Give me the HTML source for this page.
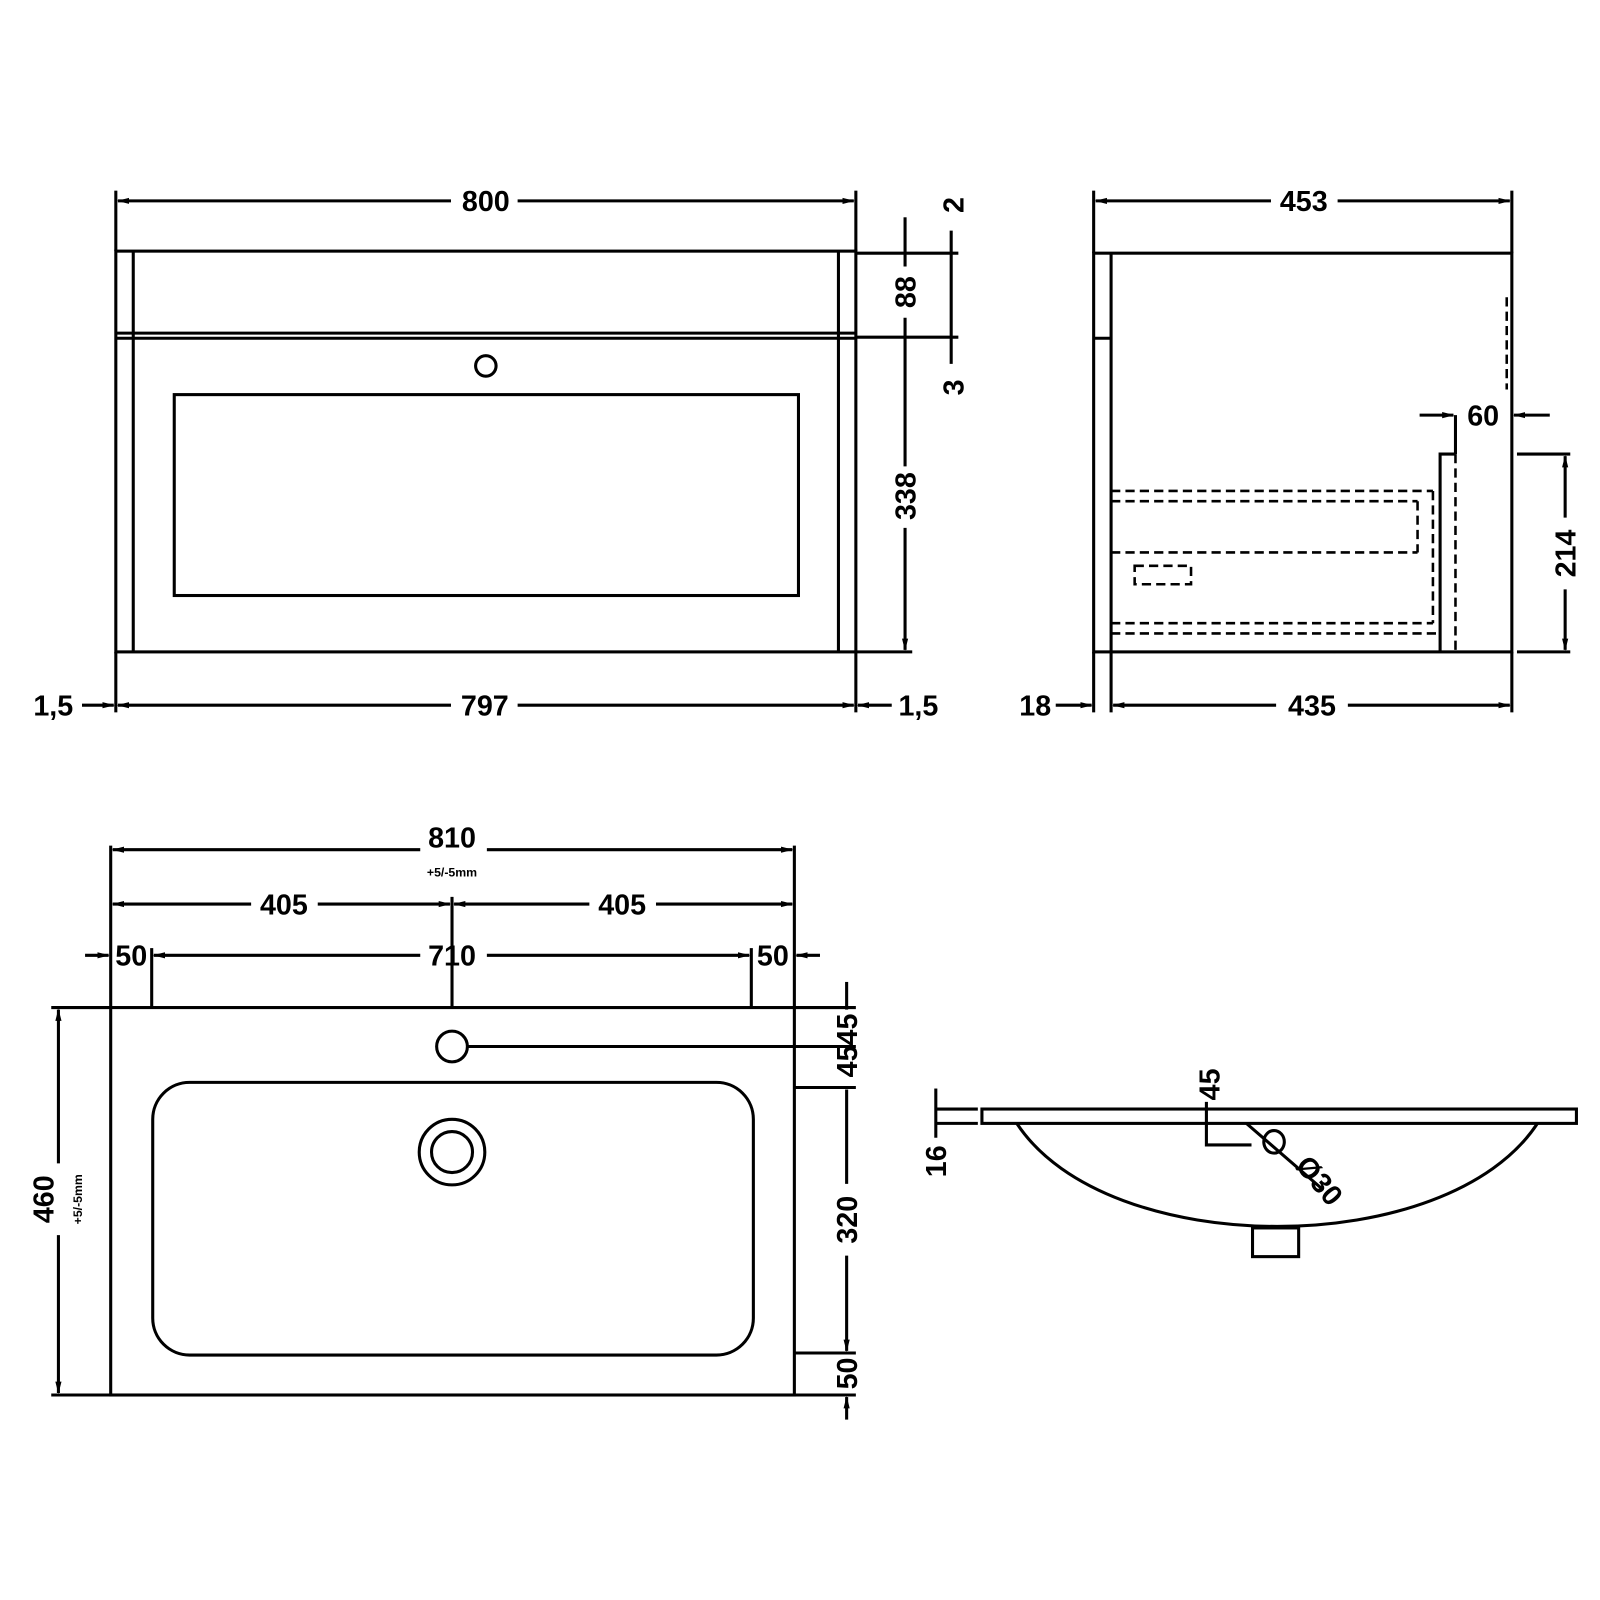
<!DOCTYPE html>
<html><head><meta charset="utf-8"><style>
html,body{margin:0;padding:0;background:#fff}
svg{display:block}
text{font-family:"Liberation Sans",sans-serif;font-weight:bold;fill:#000}
</style></head><body>
<svg width="1600" height="1600" viewBox="0 0 1561 1561" xmlns="http://www.w3.org/2000/svg">
<defs>
<marker id="a" markerWidth="12" markerHeight="8" refX="11" refY="4" orient="auto" markerUnits="userSpaceOnUse"><path d="M0,1 L12,4 L0,7 Z" fill="#000"/></marker>
</defs>
<g stroke="#000" stroke-width="3" fill="none">
<!-- FRONT VIEW -->
<line x1="113" y1="186" x2="113" y2="245"/><line x1="835" y1="186" x2="835" y2="245"/>
<line x1="440" y1="196" x2="115" y2="196" marker-end="url(#a)"/><line x1="505" y1="196" x2="833" y2="196" marker-end="url(#a)"/>
<rect x="113" y="245" width="722" height="391"/>
<line x1="130" y1="245" x2="130" y2="636"/><line x1="818" y1="245" x2="818" y2="636"/>
<line x1="113" y1="325" x2="835" y2="325"/><line x1="113" y1="330" x2="835" y2="330"/>
<line x1="835" y1="247" x2="935" y2="247"/><line x1="835" y1="329" x2="935" y2="329"/><line x1="835" y1="636" x2="890" y2="636"/>
<circle cx="474" cy="357" r="10"/>
<rect x="170" y="385" width="609" height="196"/>
<line x1="883" y1="212" x2="883" y2="260"/><line x1="883" y1="310" x2="883" y2="455"/><line x1="883" y1="515" x2="883" y2="634" marker-end="url(#a)"/>
<line x1="928" y1="225" x2="928" y2="355"/>
<line x1="113" y1="636" x2="113" y2="695"/><line x1="835" y1="636" x2="835" y2="695"/>
<line x1="80" y1="688" x2="111" y2="688" marker-end="url(#a)"/>
<line x1="440" y1="688" x2="115" y2="688" marker-end="url(#a)"/><line x1="505" y1="688" x2="833" y2="688" marker-end="url(#a)"/>
<line x1="870" y1="688" x2="837" y2="688" marker-end="url(#a)"/>
<!-- SIDE VIEW -->
<line x1="1067" y1="186" x2="1067" y2="247"/><line x1="1475" y1="186" x2="1475" y2="247"/>
<line x1="1240" y1="196" x2="1069" y2="196" marker-end="url(#a)"/><line x1="1305" y1="196" x2="1473" y2="196" marker-end="url(#a)"/>
<rect x="1067" y="247" width="408" height="389"/>
<line x1="1084" y1="247" x2="1084" y2="695"/><line x1="1067" y1="636" x2="1067" y2="695"/><line x1="1475" y1="636" x2="1475" y2="695"/>
<line x1="1067" y1="330" x2="1084" y2="330"/>
<g stroke-dasharray="9,5" stroke-width="2.5">
<line x1="1084" y1="479" x2="1398" y2="479"/><line x1="1084" y1="489" x2="1383" y2="489"/>
<line x1="1383" y1="489" x2="1383" y2="539"/><line x1="1084" y1="539" x2="1383" y2="539"/>
<line x1="1398" y1="479" x2="1398" y2="608"/><line x1="1084" y1="608" x2="1398" y2="608"/>
<line x1="1084" y1="618" x2="1405" y2="618"/>
<line x1="1420" y1="443" x2="1420" y2="636"/>
<rect x="1107" y="552" width="55" height="18"/>
<line x1="1470" y1="290" x2="1470" y2="380"/>
</g>
<polyline points="1405,636 1405,443 1420,443"/>
<line x1="1420" y1="405" x2="1420" y2="443"/>
<line x1="1385" y1="405" x2="1418" y2="405" marker-end="url(#a)"/><line x1="1512" y1="405" x2="1477" y2="405" marker-end="url(#a)"/>
<line x1="1480" y1="443" x2="1532" y2="443"/><line x1="1480" y1="636" x2="1532" y2="636"/>
<line x1="1527" y1="505" x2="1527" y2="445" marker-end="url(#a)"/><line x1="1527" y1="575" x2="1527" y2="634" marker-end="url(#a)"/>
<line x1="1030" y1="688" x2="1065" y2="688" marker-end="url(#a)"/>
<line x1="1245" y1="688" x2="1086" y2="688" marker-end="url(#a)"/><line x1="1315" y1="688" x2="1473" y2="688" marker-end="url(#a)"/>
<!-- BASIN TOP -->
<line x1="108" y1="825" x2="108" y2="983"/><line x1="775" y1="825" x2="775" y2="983"/>
<line x1="410" y1="829" x2="110" y2="829" marker-end="url(#a)"/><line x1="475" y1="829" x2="773" y2="829" marker-end="url(#a)"/>
<line x1="441" y1="875" x2="441" y2="983"/>
<line x1="245" y1="882" x2="110" y2="882" marker-end="url(#a)"/><line x1="310" y1="882" x2="439" y2="882" marker-end="url(#a)"/>
<line x1="575" y1="882" x2="443" y2="882" marker-end="url(#a)"/><line x1="640" y1="882" x2="773" y2="882" marker-end="url(#a)"/>
<line x1="148" y1="925" x2="148" y2="983"/><line x1="733" y1="925" x2="733" y2="983"/>
<line x1="83" y1="932" x2="106" y2="932" marker-end="url(#a)"/><line x1="410" y1="932" x2="150" y2="932" marker-end="url(#a)"/>
<line x1="475" y1="932" x2="731" y2="932" marker-end="url(#a)"/><line x1="800" y1="932" x2="777" y2="932" marker-end="url(#a)"/>
<rect x="108" y="983" width="667" height="378"/>
<line x1="50" y1="983" x2="108" y2="983"/><line x1="50" y1="1361" x2="108" y2="1361"/>
<line x1="57" y1="1135" x2="57" y2="985" marker-end="url(#a)"/><line x1="57" y1="1205" x2="57" y2="1359" marker-end="url(#a)"/>
<circle cx="441" cy="1021" r="15"/>
<line x1="456" y1="1021" x2="835" y2="1021"/>
<rect x="149" y="1056" width="586" height="266" rx="36"/>
<circle cx="441" cy="1124" r="32"/><circle cx="441" cy="1124" r="20"/>
<line x1="775" y1="983" x2="835" y2="983"/><line x1="775" y1="1061" x2="835" y2="1061"/><line x1="775" y1="1320" x2="835" y2="1320"/><line x1="775" y1="1361" x2="835" y2="1361"/>
<line x1="826" y1="958" x2="826" y2="985"/><line x1="826" y1="1063" x2="826" y2="1155" /><line x1="826" y1="1225" x2="826" y2="1318" marker-end="url(#a)"/>
<line x1="826" y1="1385" x2="826" y2="1363" marker-end="url(#a)"/>
<!-- BASIN SIDE -->
<rect x="958" y="1082" width="580" height="14"/>
<line x1="913" y1="1082" x2="954" y2="1082"/><line x1="913" y1="1096" x2="954" y2="1096"/>
<line x1="913" y1="1062" x2="913" y2="1110"/>
<path d="M992,1096 C1080,1230 1412,1230 1500,1096"/>
<rect x="1222" y="1198" width="45" height="28"/>
<polyline points="1177,1075 1177,1117 1221,1117"/>
<ellipse cx="1243" cy="1114" rx="10" ry="11"/>
<line x1="1216" y1="1096" x2="1290" y2="1160"/>
</g>
<g font-size="28" text-anchor="middle">
<text x="474" y="206">800</text>
<text x="473" y="698">797</text>
<text x="52" y="698">1,5</text>
<text x="896" y="698">1,5</text>
<text transform="translate(940,200) rotate(-90)">2</text>
<text transform="translate(893,285) rotate(-90)">88</text>
<text transform="translate(940,378) rotate(-90)">3</text>
<text transform="translate(893,484) rotate(-90)">338</text>
<text x="1272" y="206">453</text>
<text x="1280" y="698">435</text>
<text x="1010" y="698">18</text>
<text x="1447" y="415">60</text>
<text transform="translate(1537,540) rotate(-90)">214</text>
<text x="441" y="827">810</text>
<text x="277" y="892">405</text>
<text x="607" y="892">405</text>
<text x="128" y="942">50</text>
<text x="441" y="942">710</text>
<text x="754" y="942">50</text>
<text transform="translate(52,1170) rotate(-90)">460</text>
<text transform="translate(836,1020) rotate(-90)">4545</text>
<text transform="translate(836,1190) rotate(-90)">320</text>
<text transform="translate(836,1340) rotate(-90)">50</text>
<text transform="translate(923,1133) rotate(-90)">16</text>
<text transform="translate(1190,1058) rotate(-90)">45</text>
<text transform="translate(1280,1158) rotate(50)">Ø30</text>
</g>
<g font-size="12" text-anchor="middle">
<text x="441" y="855">+5/-5mm</text>
<text transform="translate(80,1170) rotate(-90)">+5/-5mm</text>
</g>
</svg>
</body></html>
